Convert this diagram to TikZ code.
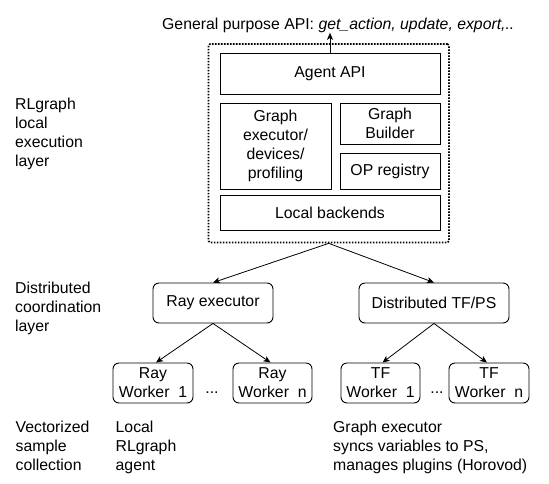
\documentclass[tikz,border=0pt]{standalone}
\usepackage{fontspec}
\setmainfont{Liberation Sans}
\usetikzlibrary{arrows.meta,calc}
\begin{document}
\begin{tikzpicture}[x=1pt,y=-1pt,
  every node/.style={font=\fontsize{15.8}{19}\selectfont, inner sep=0pt},
  sq/.style={draw=black, line width=1pt, align=center},
  rbox/.style={draw=black, line width=0.9pt, rounded corners=6pt, align=center, minimum height=40pt},
  outerbox/.style={draw=black, line width=1.7pt, dash pattern=on 1.6pt off 1.4pt, rounded corners=1.5pt},
  lbl/.style={anchor=base west, align=left},
  conn/.style={draw=black, line width=0.8pt, -{Stealth[length=7pt,width=6pt,inset=1.8pt]}}
]
\useasboundingbox (0,0) rectangle (549,483);

% title
\node[anchor=base west] (title) at (162,29.3) {General purpose API: \textit{get\_action, update, export,..}};

% outer dotted box
\node[outerbox, minimum width=240.5pt, minimum height=198.5pt] (outer) at (328.75,143.25) {};

% inner boxes
\node[sq, minimum width=220pt, minimum height=41pt] (agent) at (330,73.5) {Agent API};
\node[sq, minimum width=111pt, minimum height=86pt] (gexec) at (275.5,146) {Graph\\executor/\\devices/\\profiling};
\node[sq, minimum width=100pt, minimum height=41pt] (gbuild) at (390,123.5) {Graph\\Builder};
\node[sq, minimum width=100pt, minimum height=36pt] (opreg) at (390,171) {OP registry};
\node[sq, minimum width=220pt, minimum height=35pt] (local) at (330,212.5) {Local backends};

\draw[conn] (agent.north) -- (agent.north |- title.south);

% distributed layer
\node[rbox, minimum width=120pt] (ray) at (213,303) {Ray executor};
\node[rbox, minimum width=150pt] (dtf) at (434,303) {Distributed TF/PS};

\draw[conn] (outer.south) -- (ray.north);
\draw[conn] (outer.south) -- (dtf.north);

% workers
\node[rbox, minimum width=80pt] (rw1) at (153,383) {Ray\\Worker\ \ 1};
\node[rbox, minimum width=79pt] (rwn) at (272.5,383) {Ray\\Worker\ \ n};
\node[rbox, minimum width=79pt] (tw1) at (380.5,383) {TF\\Worker\ \ 1};
\node[rbox, minimum width=80pt] (twn) at (489,383) {TF\\Worker\ \ n};

\node[anchor=base] (rdots) at (212,393) {...};
\node[anchor=base] (tdots) at (437,393) {...};

\draw[conn] (ray.south) -- ($(rw1.north)+(3,0)$);
\draw[conn] (ray.south) -- ($(rwn.north)+(-2,0)$);
\draw[conn] (dtf.south) -- ($(tw1.north)+(2,0)$);
\draw[conn] (dtf.south) -- ($(twn.north)+(-2,0)$);

% left labels (base = baseline of last line)
\node[lbl] (l1) at (15,166.5) {RLgraph\\local\\execution\\layer};
\node[lbl] (l2) at (15,331) {Distributed\\coordination\\layer};
\node[lbl] (l3) at (15.5,470.5) {Vectorized\\sample\\collection};
\node[lbl] (l4) at (115.5,470.5) {Local\\RLgraph\\agent};
\node[lbl] (l5) at (333,470.5) {Graph executor\\syncs variables to PS,\\manages plugins (Horovod)};
\end{tikzpicture}
\end{document}
